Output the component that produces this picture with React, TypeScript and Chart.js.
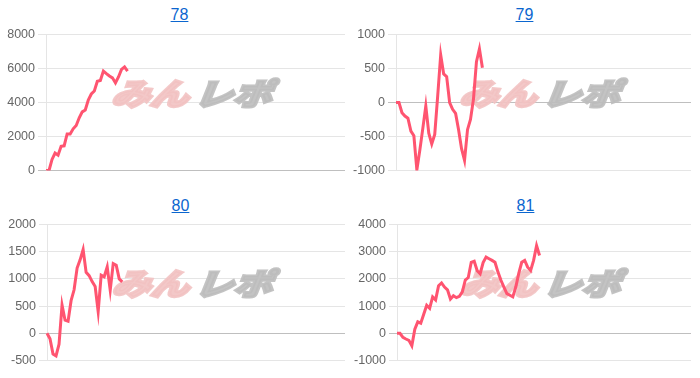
import React, { useEffect, useRef } from 'react';
import { Chart, registerables } from 'chart.js';

Chart.register(...registerables);

const TITLES = ['78', '79', '80', '81'];
const X_COUNT = 100;
const X_LABELS = Array.from({ length: X_COUNT }, (_, i) => String(i + 1));

const SERIES_78 = [0, 0, 650, 1030, 900, 1420, 1450, 2150, 2150, 2450, 2650, 3100, 3450, 3560, 4150, 4500, 4680, 5250, 5300, 5850, 5700, 5560, 5450, 5150, 5500, 5950, 6090, 5840];
const SERIES_79 = [0, 0, -150, -200, -230, -420, -490, -990, -700, -380, -50, -450, -610, -470, 100, 700, 420, 380, 0, -100, -160, -400, -680, -850, -400, -250, 50, 600, 790, 510];
const SERIES_80 = [0, -100, -380, -415, -200, 520, 240, 220, 600, 800, 1200, 1350, 1540, 1120, 1060, 950, 860, 400, 1070, 1040, 1220, 790, 1280, 1250, 1000, 945];
const SERIES_81 = [0, 0, -150, -210, -260, -460, 150, 420, 370, 700, 1030, 920, 1340, 1230, 1750, 1850, 1700, 1600, 1260, 1380, 1310, 1360, 1520, 1960, 2050, 2610, 2650, 2300, 2190, 2600, 2800, 2740, 2680, 2610, 2250, 1950, 1700, 1460, 1400, 1340, 1700, 2200, 2610, 2680, 2430, 2310, 2680, 3220, 2860];

const SERIES = [SERIES_78, SERIES_79, SERIES_80, SERIES_81];
const Y_MIN = [0, -1000, -500, -1000];
const Y_MAX = [8000, 1000, 2000, 4000];
const Y_STEP = [2000, 500, 500, 1000];

const WATERMARK_PINK = 'みん';
const WATERMARK_GRAY = 'レポ';

const LINE_COLOR = 'rgb(255, 84, 112)';
const FONT = "'Liberation Sans', Arial, Helvetica, sans-serif";

const PANELS = [
  { left: 0, top: 24, width: 345, axis: 46, titleX: 179.5, titleTop: 6 },
  { left: 350, top: 24, width: 341, axis: 46, titleX: 524.5, titleTop: 6 },
  { left: 0, top: 214, width: 345, axis: 47, titleX: 180.5, titleTop: 196.5 },
  { left: 350, top: 214, width: 341, axis: 47, titleX: 525.5, titleTop: 196.5 },
];
const CANVAS_HEIGHT = 157;

const watermarkPlugin = {
  id: 'watermark',
  beforeDatasetsDraw(chart: any) {
    const { ctx, chartArea } = chart;
    const cx = (chartArea.left + chartArea.right) / 2;
    const cy = (chartArea.top + chartArea.bottom) / 2 - 9;
    ctx.save();
    ctx.font = "900 40px 'Noto Sans CJK JP', sans-serif";
    ctx.textBaseline = 'middle';
    ctx.textAlign = 'left';
    const wPink = ctx.measureText(WATERMARK_PINK).width;
    const wGray = ctx.measureText(WATERMARK_GRAY).width;
    const gap = 6;
    const total = wPink + wGray + gap;
    const sx = 160 / total;
    ctx.translate(cx, cy);
    ctx.transform(sx, 0, -0.3, 0.75, 0, 0);
    const x0 = -total / 2;
    ctx.lineJoin = 'miter';
    ctx.lineWidth = 4;
    ctx.fillStyle = 'rgba(232, 150, 150, 0.6)';
    ctx.strokeStyle = 'rgba(232, 150, 150, 0.6)';
    ctx.globalAlpha = 1;
    // draw fill+stroke in an offscreen-like manner to avoid double alpha
    ctx.fillStyle = '#f2c2c2';
    ctx.strokeStyle = '#f2c2c2';
    ctx.globalAlpha = 0.9;
    ctx.strokeText(WATERMARK_PINK, x0, 0);
    ctx.fillText(WATERMARK_PINK, x0, 0);
    ctx.fillStyle = '#bdbdbd';
    ctx.strokeStyle = '#bdbdbd';
    ctx.strokeText(WATERMARK_GRAY, x0 + wPink + gap, 0);
    ctx.fillText(WATERMARK_GRAY, x0 + wPink + gap, 0);
    ctx.restore();
  },
};

function Panel({ index }: { index: number }) {
  const ref = useRef<HTMLCanvasElement>(null);
  const p = PANELS[index];
  useEffect(() => {
    const chart = new Chart(ref.current as HTMLCanvasElement, {
      type: 'line',
      data: {
        labels: X_LABELS,
        datasets: [
          {
            data: SERIES[index],
            borderColor: LINE_COLOR,
            backgroundColor: LINE_COLOR,
            borderWidth: 3,
            pointRadius: 0,
            fill: false,
            tension: 0,
          },
        ],
      },
      options: {
        animation: false,
        responsive: false,
        maintainAspectRatio: false,
        layout: { padding: { top: 10, bottom: 10, left: 0, right: 0 } },
        plugins: { legend: { display: false }, tooltip: { enabled: false }, title: { display: false } },
        scales: {
          x: { display: false },
          y: {
            min: Y_MIN[index],
            max: Y_MAX[index],
            ticks: {
              stepSize: Y_STEP[index],
              color: '#666',
              padding: 3,
              font: { family: FONT, size: 12.5 },
              callback: (v: any) => String(v),
            },
            grid: {
              tickLength: 8,
              color: (c: any) => (c.tick && c.tick.value === 0 ? 'rgba(0,0,0,0.25)' : 'rgba(0,0,0,0.1)'),
            },
            border: { color: 'rgba(0,0,0,0.1)' },
            afterFit: (s: any) => {
              s.width = p.axis;
            },
          },
        },
      } as any,
      plugins: [watermarkPlugin],
    });
    return () => chart.destroy();
  }, []);
  return (
    <>
      <div
        style={{
          position: 'absolute',
          left: p.titleX - 100,
          top: p.titleTop,
          width: 200,
          textAlign: 'center',
          font: `16px ${FONT}`,
          lineHeight: 'normal',
        }}
      >
        <a href="#" style={{ color: '#0b66cf', textDecoration: 'underline' }}>
          {TITLES[index]}
        </a>
      </div>
      <canvas
        ref={ref}
        width={p.width}
        height={CANVAS_HEIGHT}
        style={{ position: 'absolute', left: p.left, top: p.top, width: p.width, height: CANVAS_HEIGHT }}
      />
    </>
  );
}

export default function App() {
  return (
    <div style={{ position: 'absolute', left: 0, top: 0, width: 700, height: 378, background: '#fff', overflow: 'hidden' }}>
      {[0, 1, 2, 3].map((i) => (
        <Panel key={i} index={i} />
      ))}
    </div>
  );
}
